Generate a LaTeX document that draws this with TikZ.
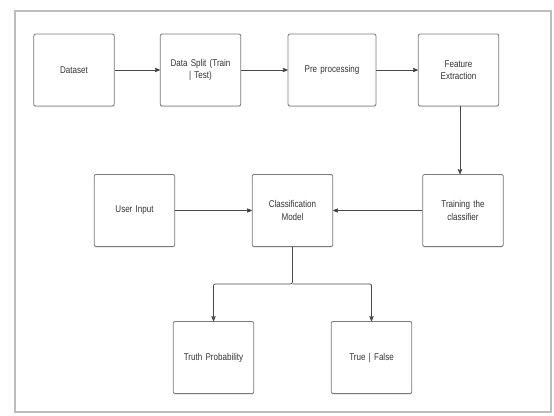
\documentclass[tikz,border=0pt]{standalone}
\usepackage{fontspec}
\setmainfont{Liberation Sans}[FakeStretch=0.82,WordSpace=0.55]
\usetikzlibrary{positioning, arrows, shadows}
\definecolor{boxgray}{HTML}{7A7A7A}
\definecolor{txtgray}{HTML}{333333}
\definecolor{linegray}{HTML}{4A4A4A}
\definecolor{framegray}{HTML}{BDBDBD}

\begin{document}
\begin{tikzpicture}[x=1pt,y=-1pt,>=stealth',node distance=126pt,on grid,
    blk/.style={draw=boxgray,line width=0.8pt,rounded corners=2pt,fill=white,
      minimum width=79pt,minimum height=72pt,text width=74pt,align=center,
      font=\fontsize{9.8}{12.5}\selectfont,text=txtgray,
      drop shadow={shadow xshift=0pt,shadow yshift=-1.2pt,opacity=0.25}},
    link/.style={->,draw=linegray,line width=0.8pt}]
    \useasboundingbox (0,0) rectangle (554,415);
    \draw[framegray,line width=1.8pt] (15,11) rectangle (551,412);
    % top row
    \node[blk] (dataset) at (74,70) {Dataset};
    \node[blk] (split) [right=126.5pt of dataset] {Data Split (Train\\| Test)};
    \node[blk,minimum width=88pt] (prep) [right=131.5pt of split] {Pre processing};
    \node[blk] (feat) [right=126.5pt of prep] {Feature\\Extraction};
    % middle row
    \node[blk] (user) at (134.5,210.5) {User Input};
    \node[blk] (cls) [right=158pt of user] {Classification\\Model};
    \node[blk] (train) [right=170.5pt of cls] {Training the\\classifier};
    % outputs
    \node[blk] (truth) at (213.5,357.5) {Truth Probability};
    \node[blk] (tf) [right=158pt of truth] {True | False};
    \coordinate[below=37pt of cls.south] (fork);
    \path[link]
      (dataset) edge (split)
      (split) edge (prep)
      (prep) edge (feat)
      (user) edge (cls)
      (train) edge (cls);
    \draw[link] (feat.south -| 460,0) -- (train.north -| 460,0);
    \draw[link,rounded corners=2pt] (cls.south) -- (fork) -| (truth.north);
    \draw[link,rounded corners=2pt] (fork) -| (tf.north);
  \end{tikzpicture}
\end{document}
